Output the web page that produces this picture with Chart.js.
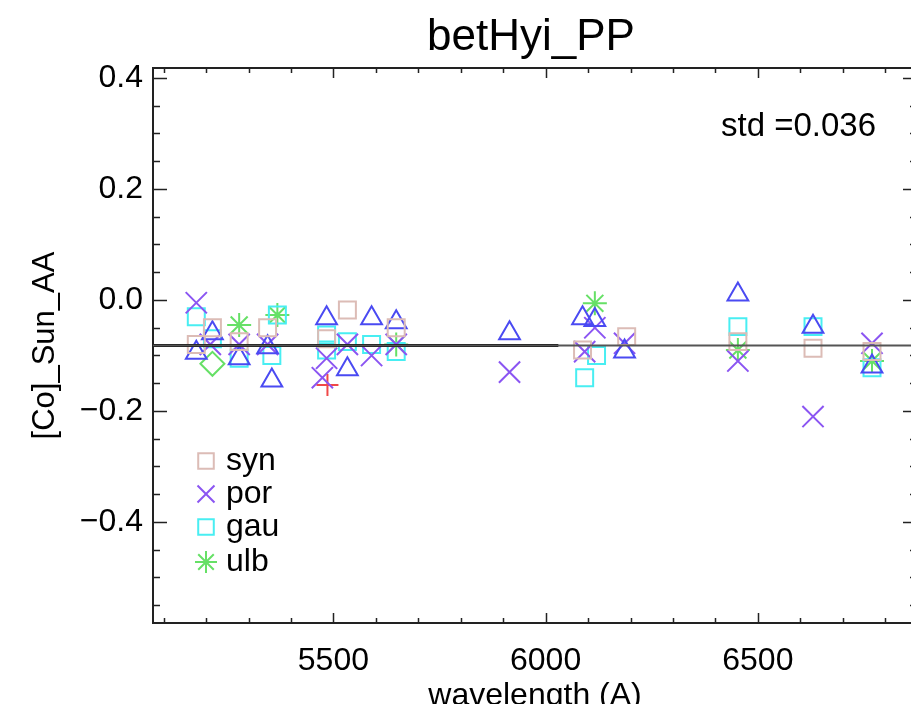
<!DOCTYPE html>
<html>
<head>
<meta charset="utf-8">
<script src="https://cdn.jsdelivr.net/npm/chart.js@4.4.0/dist/chart.umd.min.js"></script>
<style>
  html, body { margin: 0; padding: 0; background: #fff; overflow: hidden; }
  #wrap { position: absolute; left: 0; top: 0; width: 960px; height: 704px; }
</style>
</head>
<body>
<div id="wrap"><canvas id="abundChart" width="960" height="704"></canvas></div>
<script>
// axis setup
const xMin = 5075, xMax = 6875;
const yMin = -0.582, yMax = 0.418;
const xTickValues = [5100, 5200, 5300, 5400, 5500, 5600, 5700, 5800, 5900, 6000, 6100, 6200, 6300, 6400, 6500, 6600, 6700, 6800];
const xTickLabels = { 5500: "5500", 6000: "6000", 6500: "6500" };
const yTickValues = [-0.55, -0.5, -0.45, -0.4, -0.35, -0.3, -0.25, -0.2, -0.15, -0.1, -0.05, 0, 0.05, 0.1, 0.15, 0.2, 0.25, 0.3, 0.35, 0.4];
const yTickLabels = { "-0.4": "\u22120.4", "-0.2": "\u22120.2", "0": "0.0", "0.2": "0.2", "0.4": "0.4" };

// line lists per method
const synX = [5177, 5215, 5278, 5345, 5484, 5533, 5648, 6087, 6191, 6453, 6630, 6769];
const synY = [-0.08, -0.05, -0.075, -0.05, -0.07, -0.018, -0.05, -0.09, -0.066, -0.075, -0.087, -0.093];

const porX = [5177, 5210, 5278, 5345, 5484, 5474, 5533, 5590, 5648, 5915, 6092, 6116, 6186, 6453, 6630, 6769];
const porY = [-0.005, -0.08, -0.08, -0.08, -0.105, -0.14, -0.08, -0.1, -0.08, -0.13, -0.093, -0.05, -0.078, -0.11, -0.21, -0.078];

const gauX = [5177, 5215, 5278, 5368, 5355, 5484, 5484, 5533, 5590, 5648, 6092, 6120, 6453, 6630, 6769];
const gauY = [-0.03, -0.07, -0.105, -0.027, -0.1, -0.063, -0.09, -0.075, -0.08, -0.093, -0.14, -0.1, -0.048, -0.048, -0.122];

const ulbX = [5278, 5368, 5648, 6116, 6453, 6769];
const ulbY = [-0.045, -0.027, -0.08, -0.006, -0.09, -0.11];

const triX = [5177, 5215, 5278, 5345, 5355, 5484, 5533, 5590, 5648, 5915, 6087, 6116, 6186, 6453, 6630, 6769];
const triY = [-0.095, -0.06, -0.105, -0.085, -0.145, -0.033, -0.125, -0.033, -0.04, -0.06, -0.033, -0.036, -0.093, 0.01, -0.048, -0.12];

const diaX = [5215];
const diaY = [-0.115];

const plusX = [5486];
const plusY = [-0.153];

const meanValue = -0.082;
const meanBlackX = [5075, 6030];
const meanGrayX = [5075, 6875];

const titleText = "betHyi_PP";
const stdText = "std =0.036";
const legendNames = ["syn", "por", "gau", "ulb"];

const FONT = "'Liberation Sans', Arial, Helvetica, sans-serif";

function pts(xs, ys) {
    return xs.map((x, i) => ({ x: x, y: ys[i] }));
}

function markerSet(label, xs, ys, style, color, radius) {
    return {
        type: "scatter",
        label: label,
        data: pts(xs, ys),
        pointStyle: style,
        pointRadius: radius,
        pointHoverRadius: radius,
        pointBorderWidth: 2,
        borderColor: color,
        backgroundColor: "rgba(0,0,0,0)",
        pointBackgroundColor: "rgba(0,0,0,0)",
        pointBorderColor: color,
    };
}

function lineSet(label, xs, color, width) {
    return {
        type: "line",
        label: label,
        data: xs.map((x) => ({ x: x, y: meanValue })),
        borderColor: color,
        borderWidth: width,
        pointRadius: 0,
        fill: false,
    };
}

const datasets = [
    lineSet("meanAll", meanGrayX, "#555555", 2),
    lineSet("meanPart", meanBlackX, "#000000", 3),
    markerSet("syn", synX, synY, "rect", "#dcbcb6", 12),
    markerSet("tri", triX, triY, "triangle", "#4a4af2", 12),
    markerSet("por", porX, porY, "crossRot", "#8b55f2", 15),
    markerSet("gau", gauX, gauY, "rect", "#48eef2", 12),
    markerSet("ulb", ulbX, ulbY, "star", "#66e066", 12),
    markerSet("dia", diaX, diaY, "rectRot", "#66e066", 12),
    markerSet("plus", plusX, plusY, "cross", "#f04848", 11),
];

// IDL-like inward ticks, box and texts
const idlFrame = {
    id: "idlFrame",
    afterDatasetsDraw(chart) {
        const ctx = chart.ctx;
        const a = chart.chartArea;
        const xs = chart.scales.x, ys = chart.scales.y;
        ctx.save();
        ctx.strokeStyle = "#222";
        ctx.lineWidth = 2;
        ctx.beginPath();
        ctx.moveTo(a.left, a.top);
        ctx.lineTo(a.right, a.top);
        ctx.lineTo(a.right, a.bottom);
        ctx.stroke();
        ctx.lineWidth = 1.5;
        ctx.beginPath();
        xTickValues.forEach((v) => {
            const px = Math.round(xs.getPixelForValue(v)) + 0.5;
            const len = xTickLabels[v] ? 10 : 5;
            ctx.moveTo(px, a.bottom);
            ctx.lineTo(px, a.bottom - len);
            ctx.moveTo(px, a.top);
            ctx.lineTo(px, a.top + len);
        });
        yTickValues.forEach((v) => {
            const py = Math.round(ys.getPixelForValue(v)) + 0.5;
            const len = yTickLabels[String(+v.toFixed(2))] ? 14 : 7;
            ctx.moveTo(a.left, py);
            ctx.lineTo(a.left + len, py);
            ctx.moveTo(a.right, py);
            ctx.lineTo(a.right - len, py);
        });
        ctx.stroke();

        ctx.fillStyle = "#000";
        ctx.textBaseline = "middle";
        ctx.font = "44px " + FONT;
        ctx.textAlign = "center";
        ctx.fillText(titleText, 531, 38);
        ctx.font = "33px " + FONT;
        ctx.textAlign = "right";
        ctx.fillText(stdText, 876, 127);

        // legend
        const styles = { syn: ["rect", "#dcbcb6", 11], por: ["crossRot", "#8b55f2", 12], gau: ["rect", "#48eef2", 11], ulb: ["star", "#66e066", 11] };
        const rows = [461, 494, 527, 562];
        legendNames.forEach((name, i) => {
            const s = styles[name];
            ctx.strokeStyle = s[1];
            ctx.fillStyle = "rgba(0,0,0,0)";
            ctx.lineWidth = 2;
            Chart.helpers.drawPoint(ctx, { pointStyle: s[0], radius: s[2], rotation: 0, borderWidth: 2 }, 206, rows[i]);
            ctx.fillStyle = "#000";
            ctx.textAlign = "left";
            ctx.font = "32px " + FONT;
            ctx.fillText(name, 226, rows[i]);
        });
        ctx.restore();
    },
};

const ctx = document.getElementById("abundChart").getContext("2d");
const abundChart = new Chart(ctx, {
    data: { datasets: datasets },
    options: {
        responsive: false,
        animation: false,
        devicePixelRatio: 1,
        layout: { padding: { top: 68, right: 43, left: 0, bottom: 0 } },
        plugins: {
            legend: { display: false },
            title: { display: false },
            tooltip: { enabled: false },
        },
        scales: {
            x: {
                type: "linear",
                position: "bottom",
                min: xMin,
                max: xMax,
                afterBuildTicks: (scale) => { scale.ticks = xTickValues.map((v) => ({ value: v })); },
                afterFit: (scale) => { scale.height = 81; },
                grid: { display: false, drawTicks: false },
                border: { display: true, color: "#222", width: 2 },
                ticks: {
                    autoSkip: false,
                    maxRotation: 0,
                    padding: 19,
                    color: "#000",
                    font: { family: FONT, size: 32 },
                    callback: (v) => xTickLabels[v] || "",
                },
                title: {
                    display: true,
                    text: "wavelength (A)",
                    color: "#000",
                    font: { family: FONT, size: 32, lineHeight: 1 },
                    padding: { top: 0, bottom: -8 },
                },
            },
            y: {
                type: "linear",
                min: yMin,
                max: yMax,
                afterBuildTicks: (scale) => { scale.ticks = yTickValues.map((v) => ({ value: v })); },
                afterFit: (scale) => { scale.width = 153; },
                grid: { display: false, drawTicks: false },
                border: { display: true, color: "#222", width: 2 },
                ticks: {
                    autoSkip: false,
                    padding: 10,
                    color: "#000",
                    font: { family: FONT, size: 32 },
                    callback: (v) => yTickLabels[String(+v.toFixed(2))] || "",
                },
                title: {
                    display: true,
                    text: "[Co]_Sun_AA",
                    color: "#000",
                    font: { family: FONT, size: 31, lineHeight: 1 },
                    padding: { top: 30, bottom: 0 },
                },
            },
        },
    },
    plugins: [idlFrame],
});
</script>
</body>
</html>
